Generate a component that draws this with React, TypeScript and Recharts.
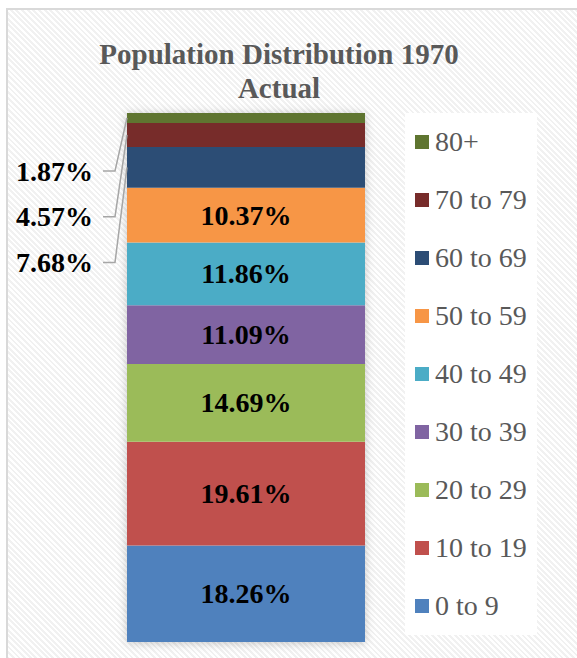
import React from 'react';
import { BarChart, Bar, XAxis, YAxis, LabelList, Legend } from 'recharts';

const chartTitle = ['Population Distribution 1970', 'Actual'];
const yearCategory = ['1970'];
const ageGroups = ['0 to 9', '10 to 19', '20 to 29', '30 to 39', '40 to 49', '50 to 59', '60 to 69', '70 to 79', '80+'];
const shares = [18.26, 19.61, 14.69, 11.09, 11.86, 10.37, 7.68, 4.57, 1.87];
const groupColors = ['#4f81bd', '#c0504d', '#9bbb59', '#8064a2', '#4bacc6', '#f79646', '#2c4d75', '#772c2a', '#5f7530'];
const outsideLabelGroups = ['80+', '70 to 79', '60 to 69'];

const data = yearCategory.map((name) => {
  const row: Record<string, any> = { name };
  ageGroups.forEach((g, i) => {
    row[g] = shares[i];
  });
  return row;
});

const FONT = "'Liberation Serif', 'Times New Roman', Times, serif";
const MARGIN = { top: 113, right: 212, bottom: 16, left: 127 };

const makeLabel = (group: string) => (props: any) => {
  const { x, y, width, height, value } = props;
  const xn = Number(x);
  const yn = Number(y);
  const w = Number(width);
  const h = Number(height);
  const text = `${Number(value).toFixed(2)}%`;
  const k = outsideLabelGroups.indexOf(group);
  if (k >= 0) {
    const ly = MARGIN.top + 58 + k * 45.7;
    const cy = yn + h / 2;
    return (
      <g>
        <polyline
          points={`${xn - 24},${ly} ${xn - 12},${ly} ${xn},${cy}`}
          fill="none"
          stroke="#a6a6a6"
          strokeWidth={1.5}
        />
        <text
          x={xn - 34}
          y={ly}
          dy="0.34em"
          textAnchor="end"
          fontFamily={FONT}
          fontWeight="bold"
          fontSize={28}
          fill="#000000"
        >
          {text}
        </text>
      </g>
    );
  }
  return (
    <text
      x={xn + w / 2}
      y={yn + h / 2}
      dy="0.34em"
      textAnchor="middle"
      fontFamily={FONT}
      fontWeight="bold"
      fontSize={28}
      fill="#000000"
    >
      {text}
    </text>
  );
};

const ShadowBackground = (props: any) => {
  const { x, y, width, height } = props;
  return (
    <rect
      x={x}
      y={y}
      width={width}
      height={height}
      fill="#ffffff"
      style={{ filter: 'drop-shadow(0px 1px 5px rgba(0,0,0,0.22))' }}
    />
  );
};

const LegendBox = (props: any) => {
  const payload: any[] = props.payload && props.payload.length ? props.payload : ageGroups.map((g, i) => ({ value: g, color: groupColors[i] }));
  const items = [...payload].reverse();
  return (
    <div style={{ background: '#ffffff', width: 132, height: 522 }}>
      {items.map((it, i) => (
        <div
          key={i}
          style={{ height: 58, display: 'flex', alignItems: 'center', paddingLeft: 10, boxSizing: 'border-box' }}
        >
          <span style={{ width: 14, height: 14, background: it.color, display: 'inline-block', marginRight: 6, flex: '0 0 auto' }} />
          <span style={{ fontFamily: FONT, fontSize: 28, lineHeight: '28px', color: '#595959', whiteSpace: 'nowrap' }}>
            {it.value}
          </span>
        </div>
      ))}
    </div>
  );
};

export default function App() {
  return (
    <div style={{ position: 'absolute', left: 0, top: 0, width: 577, height: 658, overflow: 'hidden', background: '#ffffff' }}>
      <div
        style={{
          position: 'absolute',
          left: 6,
          top: 8,
          width: 640,
          height: 720,
          borderLeft: '2px solid #d9d9d9',
          borderTop: '2px solid #d9d9d9',
          background: 'repeating-linear-gradient(45deg, #ffffff 0px, #ffffff 2px, #f1f1f1 2px, #f1f1f1 4px)',
        }}
      />
      <div
        style={{
          position: 'absolute',
          left: 6,
          top: 37,
          width: 546,
          textAlign: 'center',
          fontFamily: FONT,
          fontWeight: 'bold',
          fontSize: 29,
          lineHeight: '34px',
          color: '#595959',
        }}
      >
        {chartTitle.map((t, i) => (
          <div key={i}>{t}</div>
        ))}
      </div>
      <div style={{ position: 'absolute', left: 0, top: 0 }}>
        <BarChart width={577} height={658} data={data} margin={MARGIN} barCategoryGap={0}>
          <XAxis dataKey="name" hide />
          <YAxis type="number" domain={[0, 100]} hide />
          <Legend
            layout="horizontal"
            verticalAlign="middle"
            align="center"
            content={<LegendBox />}
            wrapperStyle={{ position: 'absolute', left: 405, top: 113, width: 132, height: 522 }}
          />
          {ageGroups.map((g, i) => (
            <Bar
              key={g}
              dataKey={g}
              stackId="a"
              fill={groupColors[i]}
              isAnimationActive={false}
              background={i === 0 ? ShadowBackground : undefined}
            >
              <LabelList dataKey={g} content={makeLabel(g)} />
            </Bar>
          ))}
        </BarChart>
      </div>
    </div>
  );
}
